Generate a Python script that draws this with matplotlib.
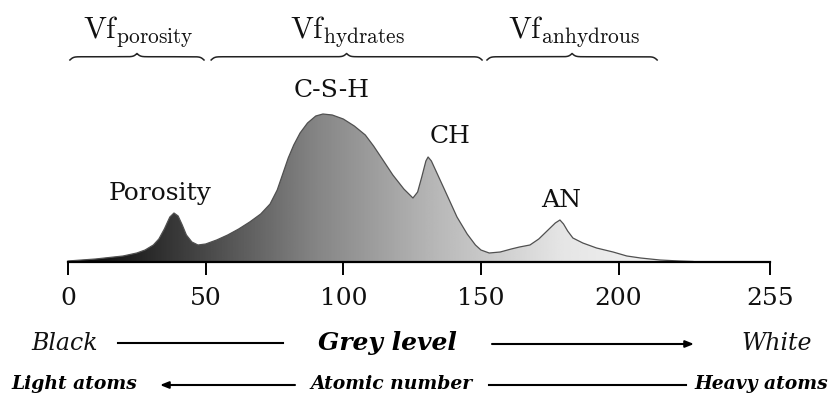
import numpy as np
import matplotlib
matplotlib.use("Agg")
import matplotlib.pyplot as plt
from matplotlib.colors import LinearSegmentedColormap
from matplotlib.lines import Line2D

plt.rcParams["mathtext.fontset"] = "cm"

# Grey-level histogram of the SEM image (relative frequency)
grey_level = [0, 5, 10, 15, 20, 25, 28, 31, 33, 35, 37, 38.5, 40, 41.5, 43, 45,
              47.2, 50, 54, 58, 62, 66, 70, 73.4, 76, 78, 80, 82, 84.3, 87, 90,
              92.6, 96, 100, 104, 108, 111, 114.4, 118, 122, 125.3, 127, 128.5,
              130, 130.8, 132, 134, 137, 141.3, 145, 148, 150, 153, 157, 161,
              164, 167.8, 171, 174, 177, 178.7, 180, 181.5, 183.4, 187, 192,
              198, 203, 208, 215, 222, 227]
frequency = [1, 2, 3, 4.5, 6, 9, 12, 17, 23, 33, 45, 49, 46, 37, 27, 20,
             17, 18, 22, 27, 33, 40, 48, 58, 72, 88, 104, 117, 129, 139, 146,
             148, 147, 143, 136, 127, 116, 102, 87, 73, 64, 70, 85,
             101, 105, 101, 89, 71, 45, 28, 17, 12, 9, 10, 13,
             15, 17, 23, 31, 39, 42, 38, 31, 24, 19, 14,
             10, 6, 4, 2, 1, 0.5]

tick_values = [0, 50, 100, 150, 200, 255]

# Volume-fraction groups: (label, start grey level, end grey level)
phase_groups = [
    (r"$\mathrm{Vf}_{\mathrm{porosity}}$", 0.7, 49.4),
    (r"$\mathrm{Vf}_{\mathrm{hydrates}}$", 52.0, 150.4),
    (r"$\mathrm{Vf}_{\mathrm{anhydrous}}$", 152.2, 214.0),
]

# Peak names with the grey level of each peak
peak_names = ["Porosity", "C-S-H", "CH", "AN"]
peak_levels = [38.5, 92.6, 130.8, 178.7]

W, H = 836, 403
fig = plt.figure(figsize=(W / 100, H / 100), dpi=100)
ax = fig.add_axes([0, 0, 1, 1])
px = 255 / 702.0
ax.set_xlim(-68 * px, 255 + (W - 770) * px)
ax.set_ylim(-(H - 262), 262)

x = np.asarray(grey_level, float)
y = np.asarray(frequency, float)

# Gradient fill under the histogram, black to white along the grey level
ramp = LinearSegmentedColormap.from_list(
    "grey_ramp",
    [(0.0, "#000000"), (40 / 255, "#3a3a3a"), (90 / 255, "#858585"),
     (130 / 255, "#b4b4b4"), (180 / 255, "#e6e6e6"), (1.0, "#ffffff")])
grad = np.linspace(0, 1, 512).reshape(1, -1)
img = ax.imshow(grad, cmap=ramp, aspect="auto", extent=[0, 255, 0, 160],
                interpolation="bilinear", zorder=1)
poly = ax.fill_between(x, 0, y, facecolor="none", edgecolor="none", zorder=1)
img.set_clip_path(poly.get_paths()[0], transform=ax.transData)
ax.plot(x, y, color="#505050", lw=0.9, zorder=2)

# Axis: bottom spine only
for side in ("left", "right", "top"):
    ax.spines[side].set_visible(False)
ax.spines["bottom"].set_position(("data", 0))
ax.spines["bottom"].set_bounds(0, 255)
ax.spines["bottom"].set_linewidth(1.6)
ax.spines["bottom"].set_zorder(3)
ax.set_yticks([])
ax.set_xticks(tick_values)
ax.set_xticklabels([str(v) for v in tick_values])
ax.tick_params(axis="x", direction="out", length=9, width=1.4, pad=9,
               labelsize=18, labelcolor="#111111")
for lab in ax.get_xticklabels():
    lab.set_fontfamily("DejaVu Serif")

# Curly braces over each group
def brace(x0, x1, ybase, height):
    n = 401
    xs = np.linspace(x0, x1, n)
    half = xs[: n // 2 + 1]
    beta = 1.6
    yh = (1 / (1 + np.exp(-beta * (half - half[0])))
          + 1 / (1 + np.exp(-beta * (half - half[-1]))))
    ys = np.concatenate((yh, yh[-2::-1]))
    ax.plot(xs, ybase + (ys - 0.5) * height, color="#222222", lw=1.1,
            clip_on=False, zorder=3)

for label, g0, g1 in phase_groups:
    brace(g0, g1, 202, 6.5)
    ax.text((g0 + g1) / 2 + 0.5, 224, label, ha="center", va="baseline",
            fontsize=22, color="#111111")

# Peak labels
peak_offsets = [(-5, 8), (3, 12), (8, 9), (0.6, 8)]
for name, g, (dx, dy) in zip(peak_names, peak_levels, peak_offsets):
    yi = np.interp(g, x, y)
    ax.text(g + dx, yi + dy, name, ha="center", va="bottom", fontsize=18,
            family="DejaVu Serif", color="#111111")

# Legend rows under the axis
def fx(p):
    return p / W

def fy(p):
    return 1 - p / H

serif = "DejaVu Serif"
fig.text(fx(65), fy(343), "Black", ha="center", va="center", fontsize=17,
         style="italic", family=serif, color="#111111")
fig.text(fx(387), fy(343), "Grey level", ha="center", va="center",
         fontsize=18, style="italic", weight="bold", family=serif)
fig.text(fx(777), fy(343), "White", ha="center", va="center", fontsize=17,
         style="italic", family=serif, color="#111111")
fig.add_artist(Line2D([fx(118), fx(283)], [fy(343), fy(343)], color="black",
                      lw=1.5, transform=fig.transFigure))
ax.annotate("", xy=(fx(694), fy(344)), xytext=(fx(492), fy(344)),
            xycoords="figure fraction", textcoords="figure fraction",
            arrowprops=dict(arrowstyle="-|>,head_length=0.5,head_width=0.2",
                            color="black", lw=1.5, shrinkA=0, shrinkB=0))

fig.text(fx(74), fy(384), "Light atoms", ha="center", va="center",
         fontsize=13.5, style="italic", weight="bold", family=serif)
fig.text(fx(392), fy(384), "Atomic number", ha="center", va="center",
         fontsize=13.5, style="italic", weight="bold", family=serif)
fig.text(fx(761), fy(384), "Heavy atoms", ha="center", va="center",
         fontsize=13.5, style="italic", weight="bold", family=serif)
ax.annotate("", xy=(fx(160), fy(385)), xytext=(fx(295), fy(385)),
            xycoords="figure fraction", textcoords="figure fraction",
            arrowprops=dict(arrowstyle="-|>,head_length=0.5,head_width=0.2",
                            color="black", lw=1.5, shrinkA=0, shrinkB=0))
fig.add_artist(Line2D([fx(489), fx(686)], [fy(385), fy(385)], color="black",
                      lw=1.5, transform=fig.transFigure))

fig.savefig("out.png", dpi=100, facecolor="white")
